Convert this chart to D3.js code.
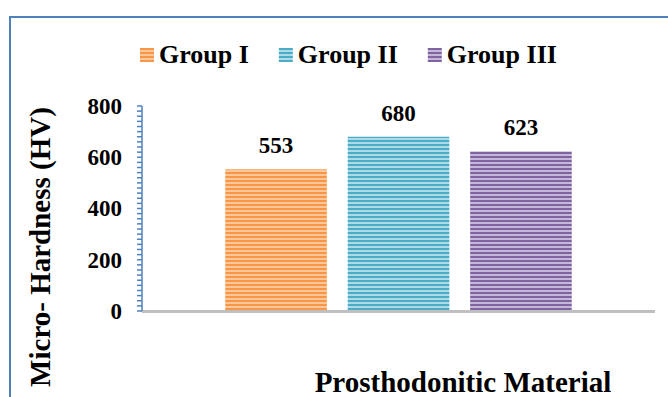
<!DOCTYPE html>
<html>
<head>
<meta charset="utf-8">
<script src="https://cdn.jsdelivr.net/npm/d3@7"></script>
<style>
  body { margin: 0; background: #fff; }
  svg { display: block; font-family: "Liberation Serif", serif; font-weight: bold; }
</style>
</head>
<body>
<div id="chart"></div>
<script>
// data
const groups = ["Group I", "Group II", "Group III"]
const hardness = [553, 680, 623]
const colors = ["#f79646", "#4bacc6", "#8064a2"]
const lightColors = ["#fcd3b0", "#c5e6ef", "#d6cbe4"]
const yTicks = [0, 200, 400, 600, 800]

const width = 668, height = 397

const svg = d3.select("#chart").append("svg")
    .attr("width", width)
    .attr("height", height)

// striped fills
const defs = svg.append("defs")
groups.forEach((g, i) => {
    const p = defs.append("pattern")
        .attr("id", "stripe" + i)
        .attr("patternUnits", "userSpaceOnUse")
        .attr("width", 8)
        .attr("height", 4)
    p.append("rect").attr("width", 8).attr("height", 4).attr("fill", colors[i])
    p.append("rect").attr("y", 2.2).attr("width", 8).attr("height", 1.6).attr("fill", lightColors[i])
})

// chart border (top and left visible)
svg.append("path")
    .attr("d", `M10,${height} V17 H${width}`)
    .attr("fill", "none")
    .attr("stroke", "#4f81bd")
    .attr("stroke-width", 2)

const x = d3.scaleBand()
    .domain(groups)
    .range([142, 655])
    .paddingInner(0.17)
    .paddingOuter(0.68)

const y = d3.scaleLinear()
    .domain([0, 800])
    .range([311, 106])

// bars
svg.append("g")
    .selectAll("rect")
    .data(groups)
    .join("rect")
    .attr("x", d => x(d))
    .attr("width", x.bandwidth())
    .attr("y", (d, i) => y(hardness[i]))
    .attr("height", (d, i) => y(0) - y(hardness[i]))
    .attr("fill", (d, i) => `url(#stripe${i})`)

// baseline
svg.append("line")
    .attr("x1", 142).attr("x2", 655)
    .attr("y1", y(0) + 0.5).attr("y2", y(0) + 0.5)
    .attr("stroke", "#bfbfbf")
    .attr("stroke-width", 3)

// y axis with minor ticks
const yAxis = svg.append("g")
    .attr("transform", "translate(142,0)")
yAxis.append("line")
    .attr("y1", y(800)).attr("y2", y(0))
    .attr("stroke", "#4f81bd").attr("stroke-width", 1.5)
yAxis.selectAll(".minor")
    .data(d3.range(0, 801, 20))
    .join("line")
    .attr("x1", -5).attr("x2", 0)
    .attr("y1", d => y(d)).attr("y2", d => y(d))
    .attr("stroke", "#4f81bd").attr("stroke-width", 1.5)
yAxis.selectAll("text")
    .data(yTicks)
    .join("text")
    .attr("x", -20)
    .attr("y", d => y(d))
    .attr("dy", "0.34em")
    .attr("text-anchor", "end")
    .attr("font-size", 23)
    .text(d => d)

// value labels
svg.append("g")
    .selectAll("text")
    .data(groups)
    .join("text")
    .attr("x", d => x(d) + x.bandwidth() / 2)
    .attr("y", (d, i) => y(hardness[i]) - 16)
    .attr("text-anchor", "middle")
    .attr("font-size", 23)
    .text((d, i) => hardness[i])

// legend
const legend = svg.append("g")
let lx = 140
groups.forEach((g, i) => {
    legend.append("rect")
        .attr("x", lx).attr("y", 48)
        .attr("width", 14).attr("height", 14)
        .attr("fill", `url(#stripe${i})`)
    const t = legend.append("text")
        .attr("x", lx + 19).attr("y", 63)
        .attr("font-size", 26)
        .text(g)
    lx += 19 + t.node().getComputedTextLength() + 30
})

// axis titles
svg.append("text")
    .attr("transform", "translate(50,247) rotate(-90)")
    .attr("text-anchor", "middle")
    .attr("font-size", 29)
    .text("Micro- Hardness (HV)")

svg.append("text")
    .attr("x", 463).attr("y", 392)
    .attr("text-anchor", "middle")
    .attr("font-size", 29)
    .text("Prosthodonitic Material")
</script>
</body>
</html>
